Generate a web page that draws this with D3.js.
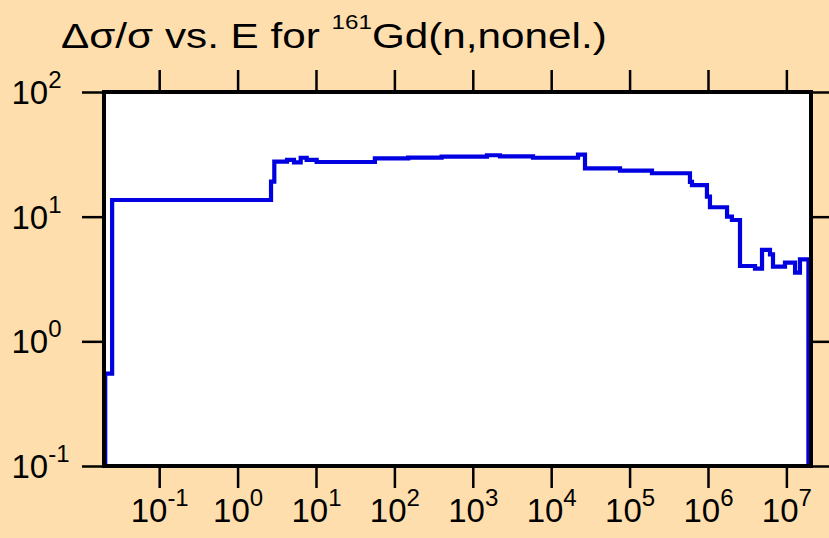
<!DOCTYPE html>
<html>
<head>
<meta charset="utf-8">
<script src="https://cdn.jsdelivr.net/npm/d3@7"></script>
<style>
  html, body { margin: 0; padding: 0; background: #FFDEAD; }
  svg { display: block; font-family: "Liberation Sans", Arial, Helvetica, sans-serif; }
</style>
</head>
<body>
<svg id="chart" width="829" height="538"></svg>
<script>
// Energy group boundaries (eV) and relative uncertainty per group (%)
const groupEdges = [
  0.0205, 0.0251, 2.67, 2.94, 4.27, 5.24, 6.38, 7.61, 10.2, 56.4,
  150, 400, 1517, 2222, 5866, 21980, 26990, 75500, 1.93e5, 5.89e5,
  6.25e5, 9.7e5, 1.06e6, 1.75e6, 2.02e6, 2.56e6, 3.98e6, 4.89e6, 6.18e6, 6.75e6,
  9.6e6, 1.29e7, 1.49e7, 1.91e7
];
const relUncertainty = [
  0.55, 13.6, 19.1, 27.6, 28.5, 27.3, 29.7, 28.5, 27.45, 29.4,
  29.8, 30.3, 31.1, 30.5, 29.7, 31.4, 24.4, 23.4, 22.3, 19.0,
  17.9, 14.5, 11.9, 10.0, 9.4, 4.02, 3.83, 5.41, 4.99, 3.97,
  4.28, 3.56, 4.55
];

const xTickValues = [1e-1, 1e0, 1e1, 1e2, 1e3, 1e4, 1e5, 1e6, 1e7];
const xTickExponents = ["-1", "0", "1", "2", "3", "4", "5", "6", "7"];
const yTickValues = [1e-1, 1e0, 1e1, 1e2];
const yTickExponents = ["-1", "0", "1", "2"];

const titleMain = "\u0394\u03c3/\u03c3 vs. E for ";
const titleSup = "161";
const titleTail = "Gd(n,nonel.)";

const svg = d3.select("#chart");
const plot = { left: 104, right: 811, top: 92, bottom: 466 };

const x = d3.scaleLog()
  .domain([Math.pow(10, -1.704), Math.pow(10, 7.314)])
  .range([plot.left, plot.right]);
const y = d3.scaleLog()
  .domain([0.1, 100])
  .range([plot.bottom, plot.top]);

// plot background
svg.append("rect")
  .attr("x", plot.left).attr("y", plot.top)
  .attr("width", plot.right - plot.left).attr("height", plot.bottom - plot.top)
  .attr("fill", "#ffffff");

// step curve built from the group structure
const floor = y.domain()[0];
const pts = [[groupEdges[0], floor]];
relUncertainty.forEach((v, i) => pts.push([groupEdges[i], v]));
pts.push([groupEdges[groupEdges.length - 1], relUncertainty[relUncertainty.length - 1]]);
pts.push([groupEdges[groupEdges.length - 1], floor]);

const line = d3.line()
  .x(d => x(d[0]))
  .y(d => y(d[1]))
  .curve(d3.curveStepAfter);

svg.append("path")
  .datum(pts)
  .attr("d", line)
  .attr("fill", "none")
  .attr("stroke", "#0000e0")
  .attr("stroke-width", 4.2)
  .attr("stroke-linejoin", "miter");

// frame
svg.append("rect")
  .attr("x", plot.left).attr("y", plot.top)
  .attr("width", plot.right - plot.left).attr("height", plot.bottom - plot.top)
  .attr("fill", "none")
  .attr("stroke", "#000")
  .attr("stroke-width", 4);

function styleTicks(g) {
  g.select(".domain").remove();
  g.selectAll(".tick line").attr("stroke", "#000").attr("stroke-width", 2.5);
}

function powerLabel(sel, exponent) {
  sel.append("tspan").text("10");
  sel.append("tspan").attr("font-size", 24).attr("dy", -16).text(exponent);
}

// bottom axis with power-of-ten labels
const gx = svg.append("g")
  .attr("transform", `translate(0,${plot.bottom + 2})`)
  .call(d3.axisBottom(x).tickValues(xTickValues).tickSize(20).tickFormat(""))
  .call(styleTicks);
gx.selectAll(".tick text").remove();
gx.selectAll(".tick").each(function(d, i) {
  const t = d3.select(this).append("text")
    .attr("y", 521.5 - plot.bottom - 2)
    .attr("text-anchor", "middle")
    .attr("fill", "#000")
    .attr("font-size", 33);
  powerLabel(t, xTickExponents[i]);
});

// top axis (ticks only)
svg.append("g")
  .attr("transform", `translate(0,${plot.top - 2})`)
  .call(d3.axisTop(x).tickValues(xTickValues).tickSize(20).tickFormat(""))
  .call(styleTicks);

// left axis with power-of-ten labels
const gy = svg.append("g")
  .attr("transform", `translate(${plot.left - 2},0)`)
  .call(d3.axisLeft(y).tickValues(yTickValues).tickSize(20).tickFormat(""))
  .call(styleTicks);
gy.selectAll(".tick text").remove();
gy.selectAll(".tick").each(function(d, i) {
  const t = d3.select(this).append("text")
    .attr("x", 11.5 - plot.left + 2)
    .attr("y", 11.6)
    .attr("text-anchor", "start")
    .attr("fill", "#000")
    .attr("font-size", 33);
  powerLabel(t, yTickExponents[i]);
});

// right axis (ticks only)
svg.append("g")
  .attr("transform", `translate(${plot.right + 2},0)`)
  .call(d3.axisRight(y).tickValues(yTickValues).tickSize(20).tickFormat(""))
  .call(styleTicks);

// title, set in a widened face
const titleG = svg.append("g");
const title = titleG.append("text")
  .attr("x", 0).attr("y", 0)
  .attr("fill", "#000")
  .attr("font-size", 35);
title.append("tspan").text(titleMain);
title.append("tspan").attr("font-size", 20).attr("dy", -19).text(titleSup);
title.append("tspan").attr("dy", 19).text(titleTail);
const titleWidth = title.node().getComputedTextLength();
titleG.attr("transform", `translate(61,47.5) scale(${546 / titleWidth},1)`);
</script>
</body>
</html>
